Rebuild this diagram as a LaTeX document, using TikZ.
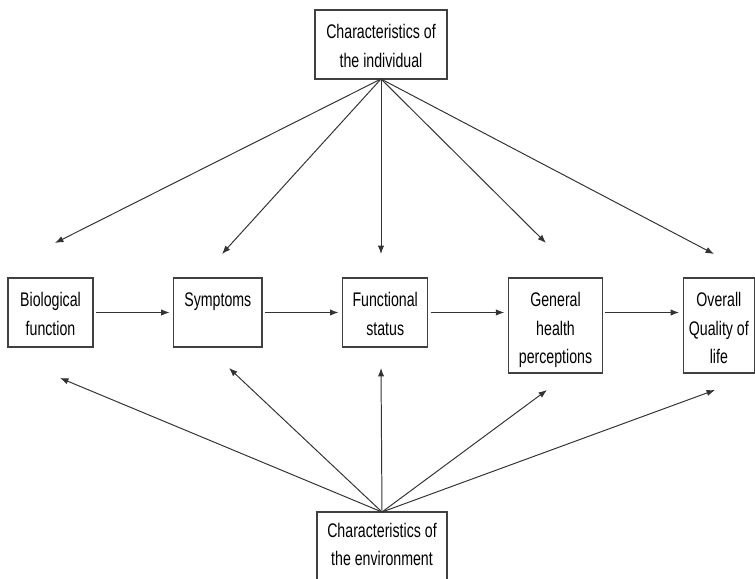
\documentclass[tikz,border=0pt]{standalone}
\usepackage{fontspec}
\setmainfont{Liberation Sans}[FakeStretch=0.72]
\usetikzlibrary{positioning, arrows.meta}
\begin{document}
\begin{tikzpicture}[x=0.025cm, y=-0.025cm, node distance=2.02cm,
    every node/.style={font=\fontsize{14}{20}\selectfont},
    block/.style={rectangle, draw=black!75, line width=0.9pt, align=center, outer sep=0pt,
    inner xsep=0pt, inner ysep=0pt, text height=40.6pt, text depth=8.45pt},
    single/.style={text height=20.6pt, text depth=28.45pt},
    tall/.style={text height=60.6pt, text depth=6.95pt},
    line/.style={draw=black!80, line width=0.7pt, -{Latex[length=6pt, width=4.5pt]}}]

\useasboundingbox (0,0) rectangle (755,578);

\node [block, anchor=north west, minimum width=2.125cm] (bio) at (8,278) {Biological\\function};
\node [block, single, right=of bio.north east, anchor=north west, minimum width=2.2cm] (symptoms) {Symptoms};
\node [block, right=of symptoms.north east, anchor=north west, minimum width=2.125cm] (functional) {Functional\\status};
\node [block, tall, right=of functional.north east, anchor=north west, minimum width=2.35cm] (general) {General\\health\\perceptions};
\node [block, tall, right=of general.north east, anchor=north west, minimum width=1.775cm] (overall) {Overall\\Quality of\\life};
\node [block, anchor=north, minimum width=3.3cm] (individual) at (381,10) {Characteristics of\\the individual};
\node [block, anchor=north, minimum width=3.25cm, text height=37.8pt, text depth=25.5pt] (environment) at (382,512) {Characteristics of\\the environment};

\coordinate (t1) at (55,243);
\coordinate (t2) at (222,254);
\coordinate (t3) at (381,254);
\coordinate (t4) at (546,243);
\coordinate (t5) at (714,254);
\coordinate (b1) at (60,378);
\coordinate (b2) at (229,368);
\coordinate (b3) at (381,368);
\coordinate (b4) at (547,390);
\coordinate (b5) at (715,390);

\path [line, shorten <=2pt, shorten >=3pt] (bio) -- (symptoms);
\path [line, shorten <=2pt, shorten >=3pt] (symptoms) -- (functional);
\path [line, shorten <=2pt, shorten >=3pt] (functional.east) -- (general.west |- functional.east);
\path [line, shorten <=2pt, shorten >=3pt] (general.east |- functional.east) -- (overall.west |- functional.east);

\path [line] (individual.south) -- (t1);
\path [line] (individual.south) -- (t2);
\path [line] (individual.south) -- (t3);
\path [line] (individual.south) -- (t4);
\path [line] (individual.south) -- (t5);
\path [line] (environment.north) -- (b1);
\path [line] (environment.north) -- (b2);
\path [line] (environment.north) -- (b3);
\path [line] (environment.north) -- (b4);
\path [line] (environment.north) -- (b5);
\end{tikzpicture}
\end{document}
